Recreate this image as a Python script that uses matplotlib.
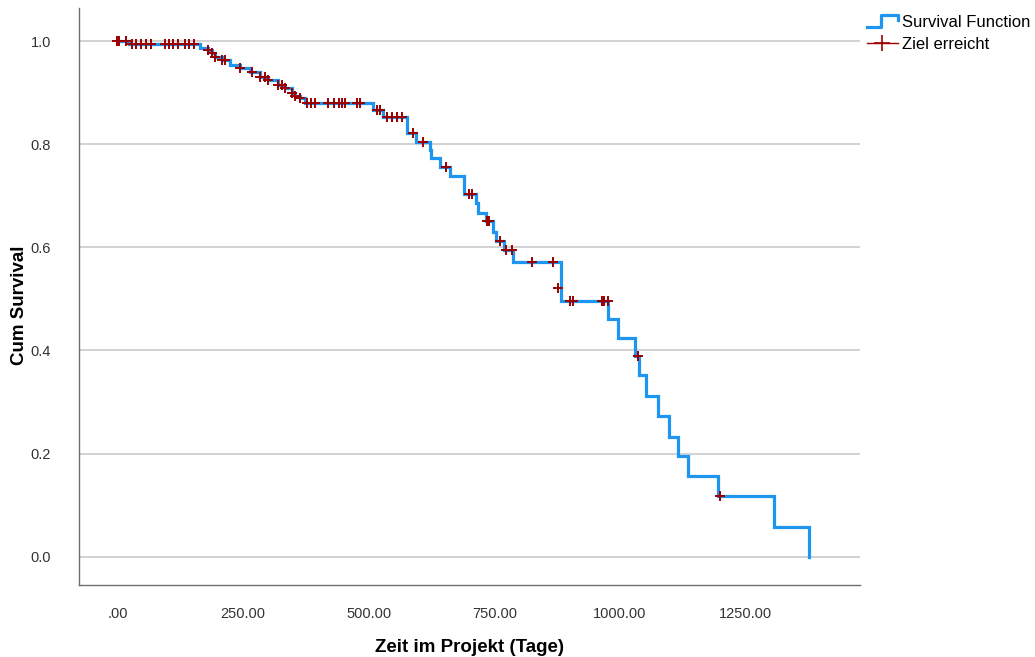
import matplotlib
matplotlib.use("Agg")
import matplotlib.pyplot as plt
from matplotlib.lines import Line2D
from matplotlib.legend_handler import HandlerBase

# Kaplan-Meier step curve (time in days, cumulative survival after the step)
step_times = [0, 23, 164, 180, 188, 194, 208, 224, 244, 264, 284, 300, 320, 333,
              347, 353, 363, 373, 509, 528, 576, 594, 622, 625, 641, 662, 690,
              714, 718, 734, 748, 753, 770, 787, 882, 976, 996, 1031, 1038, 1053,
              1076, 1098, 1116, 1135, 1195, 1307, 1376]
step_surv = [1.0, 0.9935, 0.986, 0.9825, 0.977, 0.969, 0.963, 0.953, 0.947, 0.939,
             0.930, 0.924, 0.914, 0.908, 0.900, 0.894, 0.890, 0.880, 0.866, 0.853,
             0.821, 0.805, 0.789, 0.7725, 0.756, 0.739, 0.703, 0.685, 0.667, 0.650,
             0.630, 0.612, 0.595, 0.571, 0.496, 0.461, 0.424, 0.389, 0.352, 0.312,
             0.273, 0.233, 0.195, 0.157, 0.118, 0.058, 0.0]

# censored cases ("Ziel erreicht")
censor_times = [0, 4, 16,
                28, 37, 47, 57, 67, 94, 103, 111, 120, 134, 143, 153,
                180, 188, 194, 208, 214, 244, 268, 284, 294, 300, 320, 327, 334,
                347, 353, 363,
                377, 385, 393, 420, 430, 440, 446, 453, 476, 483,
                516, 523, 536, 546, 556, 566, 588, 608, 654, 700, 706, 735, 739,
                761, 774, 785, 825, 867, 877,
                901, 907, 964, 968, 976, 1036, 1199]
censor_surv = [1.0, 1.0, 1.0,
               0.9935, 0.9935, 0.9935, 0.9935, 0.9935, 0.9935, 0.9935, 0.9935,
               0.9935, 0.9935, 0.9935, 0.9935,
               0.9825, 0.977, 0.969, 0.963, 0.963, 0.947, 0.939, 0.930, 0.930,
               0.924, 0.914, 0.914, 0.908, 0.900, 0.894, 0.890,
               0.880, 0.880, 0.880, 0.880, 0.880, 0.880, 0.880, 0.880, 0.880, 0.880,
               0.866, 0.866, 0.853, 0.853, 0.853, 0.853, 0.821, 0.805, 0.756,
               0.703, 0.703, 0.650, 0.650, 0.612, 0.595, 0.595, 0.571, 0.571, 0.521,
               0.496, 0.496, 0.496, 0.496, 0.496, 0.389, 0.118]

x_ticks = [0, 250, 500, 750, 1000, 1250]
x_tick_labels = [".00", "250.00", "500.00", "750.00", "1000.00", "1250.00"]
y_ticks = [0.0, 0.2, 0.4, 0.6, 0.8, 1.0]
y_tick_labels = ["0.0", "0.2", "0.4", "0.6", "0.8", "1.0"]

LINE_COLOR = "#1e96ef"
MARK_COLOR = "#9c0000"


class StepHandler(HandlerBase):
    # legend icon drawn as a small step, like in SPSS
    def create_artists(self, legend, orig_handle, xdescent, ydescent,
                       width, height, fontsize, trans):
        x0 = -xdescent
        y0 = -ydescent
        xs = [x0, x0 + 0.48 * width, x0 + 0.48 * width, x0 + width, x0 + width]
        ys = [y0 + 0.0 * height, y0 + 0.0 * height, y0 + 1.0 * height,
              y0 + 1.0 * height, y0 + 0.55 * height]
        line = Line2D(xs, ys, color=orig_handle.get_color(),
                      lw=orig_handle.get_linewidth(), transform=trans)
        return [line]


def main():
    plt.rcParams["font.family"] = ["Liberation Sans", "DejaVu Sans"]

    fig = plt.figure(figsize=(10.35, 6.57), dpi=100)
    ax = fig.add_axes([79 / 1035, 1 - 585 / 657, (860 - 79) / 1035, (585 - 8) / 657])

    for y in y_ticks:
        ax.axhline(y, color="#cfcfcf", lw=1.3, zorder=1)

    surv_line, = ax.plot(step_times, step_surv, drawstyle="steps-post",
                         color=LINE_COLOR, lw=2.3, zorder=2,
                         solid_joinstyle="miter")
    ax.plot(censor_times, censor_surv, linestyle="none", marker="+",
            ms=7.5, mew=1.4, color=MARK_COLOR, zorder=3)

    ax.set_xlim(-76.6, 1478)
    ax.set_ylim(-0.0549, 1.064)

    ax.set_xticks(x_ticks)
    ax.set_xticklabels(x_tick_labels)
    ax.set_yticks(y_ticks)
    ax.set_yticklabels(y_tick_labels)
    ax.tick_params(axis="both", length=0, labelsize=10.5, colors="#333333")
    ax.tick_params(axis="x", pad=16)
    ax.tick_params(axis="y", pad=20)

    for side in ["top", "right"]:
        ax.spines[side].set_visible(False)
    for side in ["left", "bottom"]:
        ax.spines[side].set_color("#6e6e6e")
        ax.spines[side].set_linewidth(1.0)

    ax.set_xlabel("Zeit im Projekt (Tage)", fontsize=13.5, fontweight="bold")
    ax.set_ylabel("Cum Survival", fontsize=13.5, fontweight="bold")
    ax.xaxis.label.set_va("center")
    ax.yaxis.label.set_va("center")
    ax.xaxis.set_label_coords(0.5, (585 - 647) / 577)
    ax.yaxis.set_label_coords((20 - 79) / 781, 0.5 - (305 - 296.5) / 577)

    censor_handle = Line2D([], [], color=MARK_COLOR, lw=1.0, marker="+",
                           ms=12, mew=1.2)
    ax.legend([surv_line, censor_handle], ["Survival Function", "Ziel erreicht"],
              handler_map={surv_line: StepHandler()},
              loc="upper left", bbox_to_anchor=(1.0, 1.0), frameon=False,
              fontsize=12, handlelength=1.85, handletextpad=0.3,
              borderaxespad=0.15, borderpad=0.25, labelspacing=0.45, numpoints=1)

    fig.savefig("out.png", dpi=100)


if __name__ == "__main__":
    main()
